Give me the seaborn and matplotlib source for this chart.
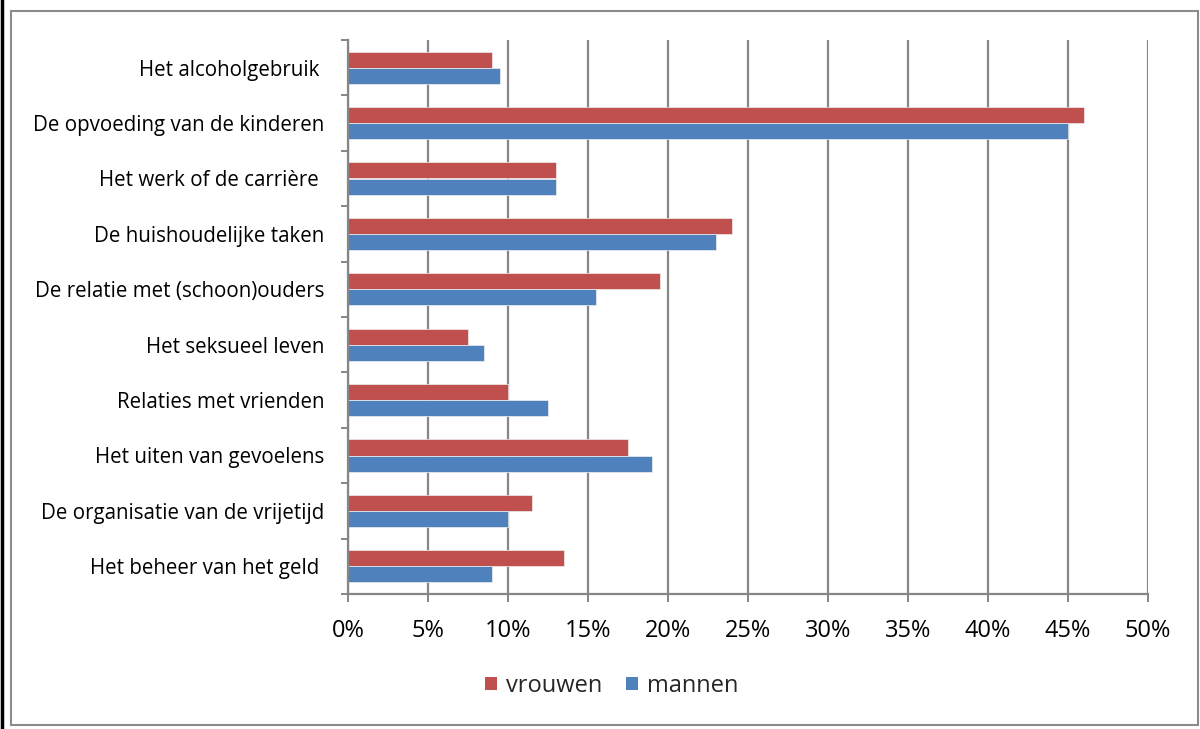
import matplotlib
matplotlib.use("Agg")
import matplotlib.pyplot as plt
import seaborn as sns
import pandas as pd
from matplotlib.ticker import FuncFormatter, FixedLocator
from matplotlib.patches import Rectangle
from matplotlib.lines import Line2D

categories = [
    "Het alcoholgebruik ",
    "De opvoeding van de kinderen",
    "Het werk of de carrière ",
    "De huishoudelijke taken",
    "De relatie met (schoon)ouders",
    "Het seksueel leven",
    "Relaties met vrienden",
    "Het uiten van gevoelens",
    "De organisatie van de vrijetijd",
    "Het beheer van het geld ",
]
vrouwen = [9.0, 46.0, 13.0, 24.0, 19.5, 7.5, 10.0, 17.5, 11.5, 13.5]
mannen = [9.5, 45.0, 13.0, 23.0, 15.5, 8.5, 12.5, 19.0, 10.0, 9.0]
series = ["vrouwen", "mannen"]
xticks = [0, 5, 10, 15, 20, 25, 30, 35, 40, 45, 50]

df = pd.DataFrame({
    "categorie": categories * 2,
    "waarde": vrouwen + mannen,
    "geslacht": ["vrouwen"] * len(categories) + ["mannen"] * len(categories),
})

sns.set_theme(style="white")
plt.rcParams["font.family"] = ["Open Sans", "DejaVu Sans"]

fig = plt.figure(figsize=(12, 7.29), dpi=100)
ax = fig.add_axes([348 / 1200, 1 - 594 / 729, 800 / 1200, 554 / 729])

palette = {"vrouwen": "#C0504D", "mannen": "#4F81BD"}
sns.barplot(data=df, x="waarde", y="categorie", hue="geslacht",
            hue_order=series, order=categories, palette=palette,
            width=0.58, orient="h", ax=ax, legend=False,
            edgecolor="#f0f0f0", linewidth=0.5, saturation=1)

grid_color = "#868686"
ax.set_xlim(0, 50)
ax.set_ylim(len(categories) - 0.5, -0.5)
ax.xaxis.set_major_locator(FixedLocator(xticks))
ax.xaxis.set_major_formatter(FuncFormatter(lambda v, p: f"{v:.0f}%"))
ax.grid(axis="x", color=grid_color, linewidth=1.6)
ax.grid(axis="y", visible=False)
ax.set_axisbelow(True)
ax.set_xlabel("")
ax.set_ylabel("")

for s in ["top", "right"]:
    ax.spines[s].set_visible(False)
for s in ["left", "bottom"]:
    ax.spines[s].set_color(grid_color)
    ax.spines[s].set_linewidth(1.6)

ax.tick_params(axis="x", which="major", length=6, width=1.4, color=grid_color,
               labelsize=17, pad=12, direction="out", bottom=True)
ax.tick_params(axis="y", which="major", length=0, labelsize=14.8, pad=17)
ax.yaxis.set_minor_locator(FixedLocator([i - 0.5 for i in range(len(categories) + 1)]))
ax.tick_params(axis="y", which="minor", length=5, width=1.4, color=grid_color,
               direction="out", left=True)
for lbl in ax.get_yticklabels() + ax.get_xticklabels():
    lbl.set_color("black")

handles = [Rectangle((0, 0), 1, 1, facecolor=palette[s], edgecolor="none") for s in series]
fig.legend(handles, series, loc="center", bbox_to_anchor=(0.51, 1 - 686 / 729),
           ncol=2, frameon=False, fontsize=17, handlelength=0.5, handleheight=0.5,
           handletextpad=0.4, columnspacing=1.0)

# outer chart border
fig.add_artist(Rectangle((11 / 1200, 4 / 729), 1187 / 1200, 714 / 729,
                         transform=fig.transFigure, fill=False,
                         edgecolor="#8c8c8c", linewidth=1.5))
fig.add_artist(Line2D([1.5 / 1200, 1.5 / 1200], [0, 1], transform=fig.transFigure,
                      color="black", linewidth=2.5))

fig.savefig("out.png", dpi=100)
